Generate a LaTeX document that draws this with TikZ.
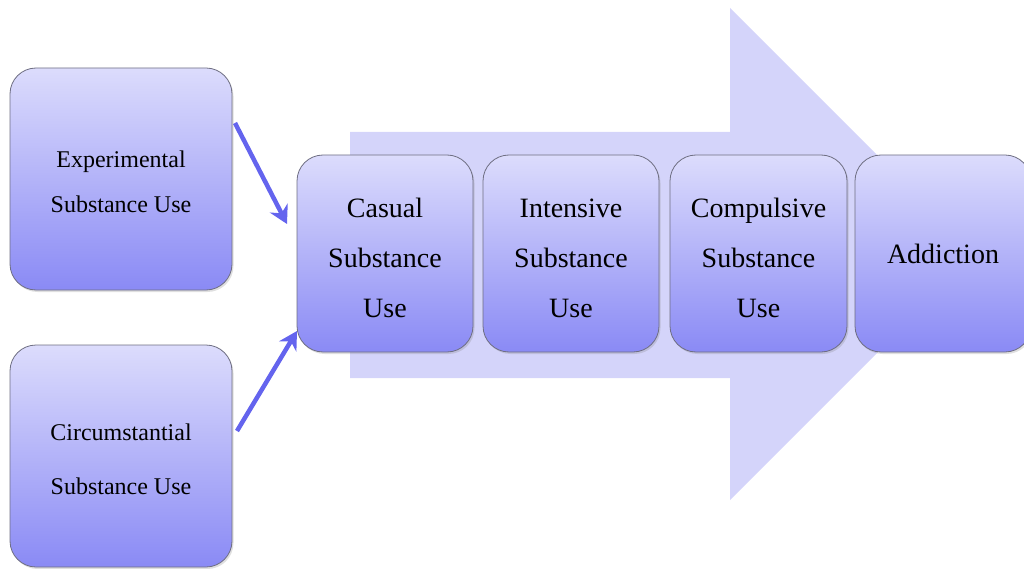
\documentclass[tikz,border=0pt]{standalone}
\usepackage{fontspec}
\setmainfont{Liberation Serif}
\usetikzlibrary{arrows.meta,shadows}
\definecolor{bigarrow}{RGB}{212,212,250}
\definecolor{boxtop}{RGB}{220,220,252}
\definecolor{boxbot}{RGB}{138,138,245}
\definecolor{boxline}{RGB}{110,110,130}
\definecolor{linkcol}{RGB}{100,100,238}
\tikzset{
  stagebox/.style={draw=boxline, line width=0.8pt, rounded corners=26pt,
    top color=boxtop, bottom color=boxbot, align=center,
    drop shadow={shadow xshift=1.5pt, shadow yshift=-2pt, opacity=0.25},
    inner sep=0pt},
  bigtext/.style={font=\fontsize{28}{50}\selectfont, align=center, yshift=-4pt},
  smalltext/.style={font=\fontsize{24}{45}\selectfont, align=center, yshift=-3pt},
  circtext/.style={font=\fontsize{24}{54}\selectfont, align=center, yshift=-3pt},
  link/.style={draw=linkcol, line width=4.5pt,
    -{Stealth[length=18pt,width=20pt,inset=6pt]}}
}
\begin{document}
\begin{tikzpicture}[x=1pt,y=-1pt]
\useasboundingbox (0,0) rectangle (1024,569);
% big arrow
\fill[bigarrow] (350,132) -- (730,132) -- (730,8) -- (976,254) -- (730,500) -- (730,378) -- (350,378) -- cycle;
% stage boxes
\node[stagebox, minimum width=176pt, minimum height=197pt,
  label={[bigtext]center:{Casual\\Substance\\Use}}] (casual) at (385,253.5) {};
\node[stagebox, minimum width=176pt, minimum height=197pt,
  label={[bigtext, yshift=-1pt]center:{Intensive\\Substance\\Use}}] (intensive) at (571,253.5) {};
\node[stagebox, minimum width=177pt, minimum height=197pt,
  label={[bigtext]center:{Compulsive\\Substance\\Use}}] (compulsive) at (758.5,253.5) {};
\node[stagebox, minimum width=176pt, minimum height=197pt,
  label={[bigtext, yshift=4pt]center:{Addiction}}] (addiction) at (943,253.5) {};
% left boxes
\node[stagebox, minimum width=222pt, minimum height=222pt,
  label={[smalltext]center:{Experimental\\Substance Use}}] (exp) at (121,179) {};
\node[stagebox, minimum width=222pt, minimum height=222pt,
  label={[circtext]center:{Circumstantial\\Substance Use}}] (circ) at (121,456) {};
% connectors
\coordinate (e1) at (235,123);
\coordinate (t1) at (287,224);
\coordinate (e2) at (237,431);
\coordinate (t2) at (297,331);
\draw[link] (e1) -- (t1);
\draw[link] (e2) -- (t2);
\end{tikzpicture}
\end{document}
